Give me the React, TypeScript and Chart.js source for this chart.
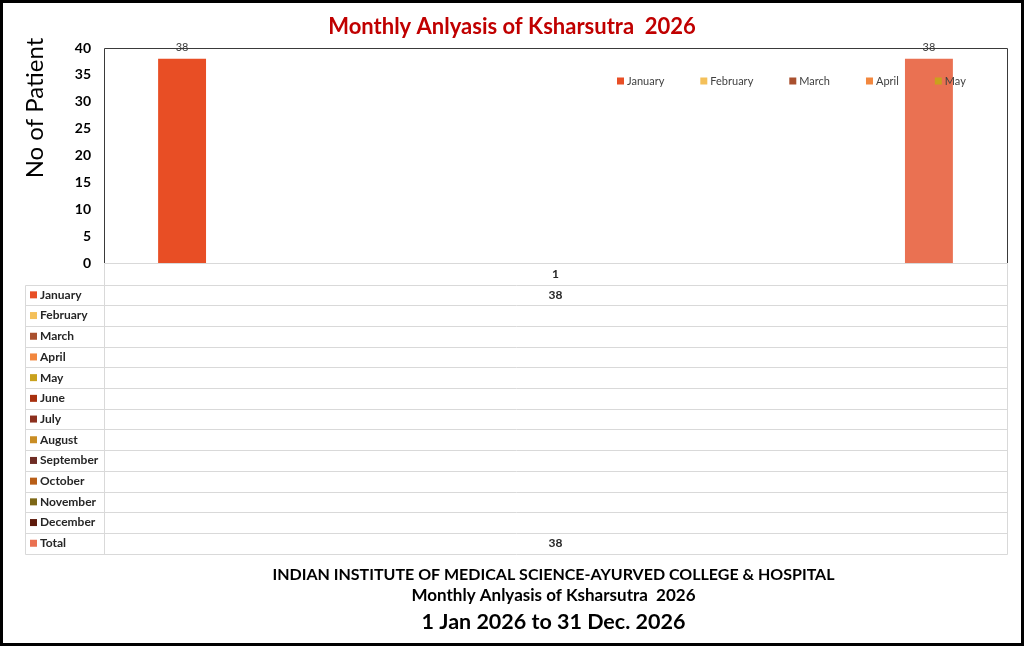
import React, { useEffect, useRef } from "react";
import { Chart, registerables } from "chart.js";

Chart.register(...registerables);

const chartTitle = "Monthly Anlyasis of Ksharsutra  2026";
const yAxisTitle = "No of Patient";
const categories = ["1"];
const seriesNames = [
  "January", "February", "March", "April", "May", "June",
  "July", "August", "September", "October", "November", "December", "Total",
];
const seriesValues: (number | null)[] = [38, null, null, null, null, null, null, null, null, null, null, null, 38];
const seriesColors = [
  "#E84E25", "#F4C05A", "#A9502E", "#F2873E", "#C9A11D", "#A8300F",
  "#8C301E", "#C98D24", "#6E2C24", "#B85E18", "#7D6716", "#5E1B0C", "#EA7152",
];
const yTickMin = 0;
const yTickMax = 40;
const yTickStep = 5;
const legendVisibleCount = 5;
const footerLines = [
  "INDIAN INSTITUTE OF MEDICAL SCIENCE-AYURVED COLLEGE & HOSPITAL",
  "Monthly Anlyasis of Ksharsutra  2026",
  "1 Jan 2026 to 31 Dec. 2026",
];

const FONT = "Lato, 'Open Sans', sans-serif";

const extrasPlugin = {
  id: "excelExtras",
  beforeDraw(chart: any) {
    const { ctx, width, height } = chart;
    ctx.save();
    ctx.fillStyle = "#ffffff";
    ctx.fillRect(0, 0, width, height);
    ctx.restore();
  },
  afterDatasetsDraw(chart: any) {
    const ctx = chart.ctx;
    ctx.save();
    ctx.font = `11px ${FONT}`;
    ctx.fillStyle = "#404040";
    ctx.textAlign = "center";
    ctx.textBaseline = "bottom";
    chart.data.datasets.forEach((ds: any, i: number) => {
      const meta = chart.getDatasetMeta(i);
      meta.data.forEach((bar: any, j: number) => {
        const v = ds.data[j];
        if (v === null || v === undefined) return;
        ctx.fillText(String(v), bar.x, bar.y - 6);
      });
    });
    ctx.restore();
  },
  afterDraw(chart: any) {
    const ctx = chart.ctx;
    const ca = chart.chartArea;
    const xs = chart.scales.x;
    ctx.save();

    // plot frame (top, left, right)
    ctx.strokeStyle = "#3a3a3a";
    ctx.lineWidth = 1;
    ctx.beginPath();
    ctx.moveTo(Math.round(ca.left) + 0.5, Math.round(ca.bottom));
    ctx.lineTo(Math.round(ca.left) + 0.5, Math.round(ca.top) + 0.5);
    ctx.lineTo(Math.round(ca.right) + 0.5, Math.round(ca.top) + 0.5);
    ctx.lineTo(Math.round(ca.right) + 0.5, Math.round(ca.bottom));
    ctx.stroke();

    // inside legend (truncated like the original)
    ctx.font = `11px ${FONT}`;
    ctx.textBaseline = "middle";
    ctx.textAlign = "left";
    let lx = ca.right - 390;
    const ly = ca.top + 33;
    for (let i = 0; i < legendVisibleCount; i++) {
      ctx.fillStyle = seriesColors[i];
      ctx.fillRect(lx, ly - 3.5, 7, 7);
      ctx.fillStyle = "#404040";
      ctx.fillText(seriesNames[i], lx + 10, ly);
      lx += 10 + ctx.measureText(seriesNames[i]).width + 36;
    }

    // data table
    const tableLeft = 25.5;
    const colLeft = Math.round(ca.left) + 0.5;
    const right = Math.round(ca.right) + 0.5;
    const headTop = Math.round(ca.bottom) + 0.5;
    const headH = 21;
    const rowH = 20.7;
    const rowsTop = headTop + headH;
    const nRows = seriesNames.length;
    const tableBottom = Math.round(rowsTop + nRows * rowH) + 0.5;
    ctx.strokeStyle = "#d9d9d9";
    ctx.lineWidth = 1;
    ctx.beginPath();
    ctx.moveTo(colLeft, headTop);
    ctx.lineTo(right, headTop);
    for (let i = 0; i <= nRows; i++) {
      const y = Math.round(rowsTop + i * rowH) + 0.5;
      ctx.moveTo(tableLeft, y);
      ctx.lineTo(right, y);
    }
    ctx.moveTo(tableLeft, Math.round(rowsTop) + 0.5);
    ctx.lineTo(tableLeft, tableBottom);
    ctx.moveTo(colLeft, headTop);
    ctx.lineTo(colLeft, tableBottom);
    ctx.moveTo(right, headTop);
    ctx.lineTo(right, tableBottom);
    ctx.stroke();

    ctx.font = `bold 12px ${FONT}`;
    ctx.fillStyle = "#262626";
    ctx.textAlign = "center";
    ctx.textBaseline = "middle";
    categories.forEach((c, j) => {
      ctx.fillText(c, xs.getPixelForValue(j), headTop + headH / 2);
    });
    for (let i = 0; i < nRows; i++) {
      const cy = rowsTop + i * rowH + rowH / 2;
      ctx.fillStyle = seriesColors[i];
      ctx.fillRect(30, cy - 3.5, 7, 7);
      ctx.fillStyle = "#262626";
      ctx.textAlign = "left";
      ctx.fillText(seriesNames[i], 40, cy);
      const v = seriesValues[i];
      if (v !== null) {
        ctx.textAlign = "center";
        categories.forEach((_, j) => ctx.fillText(String(v), xs.getPixelForValue(j), cy));
      }
    }

    // y axis title
    ctx.save();
    ctx.translate(35, 108);
    ctx.rotate(-Math.PI / 2);
    ctx.font = `24px ${FONT}`;
    ctx.fillStyle = "#000000";
    ctx.textAlign = "center";
    ctx.textBaseline = "middle";
    ctx.fillText(yAxisTitle, 0, 0);
    ctx.restore();

    // footer
    const fx = (ca.left + ca.right) / 2 - 2;
    ctx.fillStyle = "#000000";
    ctx.textAlign = "center";
    ctx.textBaseline = "middle";
    ctx.font = `bold 16px ${FONT}`;
    ctx.fillText(footerLines[0], fx, 575);
    ctx.font = `bold 17px ${FONT}`;
    ctx.fillText(footerLines[1], fx, 596);
    ctx.font = `bold 21.5px ${FONT}`;
    ctx.fillText(footerLines[2], fx, 622);

    // outer black frame
    ctx.strokeStyle = "#000000";
    ctx.lineWidth = 4;
    ctx.strokeRect(1, 1, chart.width - 2, chart.height - 2);
    ctx.restore();
  },
};

export default function App() {
  const ref = useRef<HTMLCanvasElement | null>(null);
  useEffect(() => {
    if (!ref.current) return;
    const datasets = seriesNames.map((name, i) => ({
      label: name,
      data: [seriesValues[i]],
      backgroundColor: seriesColors[i],
      borderWidth: 0,
      barPercentage: 0.77,
      categoryPercentage: 0.896,
    }));
    const chart = new Chart(ref.current, {
      type: "bar",
      data: { labels: categories, datasets },
      options: {
        animation: false,
        responsive: false,
        devicePixelRatio: 1,
        layout: { padding: { left: 17, right: 17, top: 0, bottom: 0 } },
        plugins: {
          legend: { display: false },
          tooltip: { enabled: false },
          title: {
            display: true,
            text: chartTitle,
            color: "#C00000",
            font: { family: FONT, size: 22, weight: "bold" },
            padding: { top: 14, bottom: 7.6 },
          },
        },
        scales: {
          x: {
            grid: { display: false, drawTicks: false },
            border: { display: false },
            ticks: { display: false },
            afterFit: (s: any) => { s.height = 383; },
          },
          y: {
            min: yTickMin,
            max: yTickMax,
            grid: { display: false, drawTicks: false },
            border: { display: false },
            ticks: {
              stepSize: yTickStep,
              color: "#000000",
              padding: 13,
              font: { family: FONT, size: 14, weight: "bold" },
            },
            afterFit: (s: any) => { s.width = 87; },
          },
        },
      },
      plugins: [extrasPlugin],
    });
    return () => chart.destroy();
  }, []);
  return (
    <div style={{ position: "absolute", left: 0, top: 0, width: 1024, height: 646 }}>
      <canvas ref={ref} width={1024} height={646} />
    </div>
  );
}
